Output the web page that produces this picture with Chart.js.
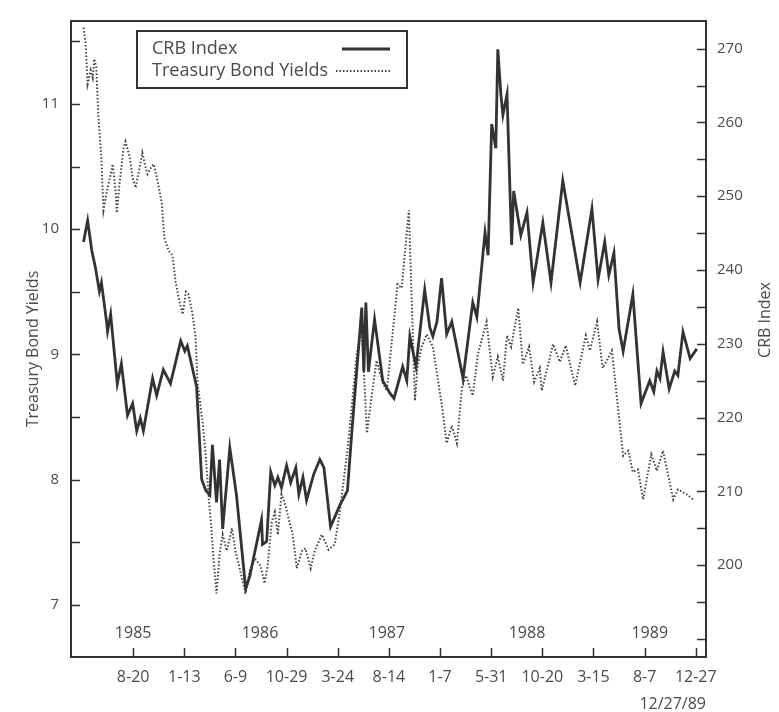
<!DOCTYPE html>
<html>
<head>
<meta charset="utf-8">
<script src="https://cdn.jsdelivr.net/npm/chart.js@4/dist/chart.umd.min.js"></script>
<style>
  html, body { margin: 0; padding: 0; background: #fff; }
  #wrap { width: 779px; height: 712px; }
</style>
</head>
<body>
<div id="wrap"><canvas id="c" width="779" height="712"></canvas></div>
<script>
// ---- DATA ----
// x is measured in 100-trading-day periods; 0 = 8-20-85 tick, 11 = 12-27-89 tick
const dateTickLabels = ['8-20', '1-13', '6-9', '10-29', '3-24', '8-14', '1-7', '5-31', '10-20', '3-15', '8-7', '12-27'];
const dateTickPositions = [0, 1, 2, 3, 4, 5, 6, 7, 8, 9, 10, 11];
const yearLabels = ['1985', '1986', '1987', '1988', '1989'];
const yearPositions = [0.0, 2.48, 4.96, 7.7, 10.1];
const endDateLabel = '12/27/89';
const leftAxisTitle = 'Treasury Bond Yields';
const rightAxisTitle = 'CRB Index';

const crbX = [-0.97, -0.89, -0.81, -0.74, -0.66, -0.62, -0.52, -0.50, -0.44, -0.31, -0.23, -0.11, -0.01, 0.07, 0.14, 0.20,
  0.38, 0.46, 0.59, 0.73, 0.93, 1.01, 1.06, 1.24, 1.34, 1.42, 1.50, 1.55, 1.63, 1.69, 1.75, 1.89, 2.02, 2.20, 2.28,
  2.51, 2.53, 2.61, 2.69, 2.77, 2.83, 2.90, 3.00, 3.08, 3.18, 3.24, 3.32, 3.39, 3.53, 3.65, 3.73, 3.86, 4.04, 4.19,
  4.27, 4.47, 4.51, 4.55, 4.60, 4.72, 4.88, 5.02, 5.10, 5.27, 5.35, 5.41, 5.53, 5.70, 5.80, 5.86, 5.94, 6.03, 6.13,
  6.23, 6.45, 6.64, 6.72, 6.88, 6.94, 7.01, 7.09, 7.13, 7.19, 7.23, 7.31, 7.40, 7.44, 7.58, 7.70, 7.82, 8.01, 8.17,
  8.40, 8.74, 8.97, 9.09, 9.22, 9.30, 9.40, 9.50, 9.58, 9.77, 9.93, 10.10, 10.18, 10.24, 10.30, 10.36, 10.48, 10.59,
  10.65, 10.75, 10.89, 11.02];
const crbValues = [243.8, 246.7, 242.7, 240.4, 237.1, 238.3, 233.0, 231.7, 234.0, 224.6, 227.3, 220.3, 221.9, 218.2, 219.9, 218.2,
  225.3, 223.0, 226.5, 224.6, 230.4, 229.0, 229.7, 224.2, 211.6, 210.1, 209.5, 216.3, 208.5, 214.3, 204.9, 215.9, 209.5, 196.8, 198.5,
  206.1, 202.8, 203.2, 212.6, 210.8, 211.9, 210.5, 213.5, 211.2, 213.2, 209.6, 211.9, 208.8, 212.3, 214.3, 213.2, 205.2, 208.1, 210.1,
  217.5, 234.9, 226.2, 235.6, 226.2, 233.3, 225.0, 223.3, 222.6, 226.9, 225.0, 231.0, 226.9, 237.3, 232.2, 231.0, 233.0, 238.9, 231.3,
  233.0, 225.3, 235.6, 233.6, 245.1, 242.0, 259.8, 256.5, 269.9, 263.8, 261.0, 263.8, 243.4, 250.7, 244.7, 247.8, 238.3, 246.4, 238.3,
  252.1, 238.3, 248.3, 238.7, 243.8, 239.3, 242.3, 232.0, 229.0, 236.7, 221.9, 225.0, 223.5, 226.3, 225.3, 228.9, 223.9, 226.3,
  225.7, 231.6, 228.0, 229.3];

const yieldX = [-0.97, -0.93, -0.89, -0.83, -0.79, -0.76, -0.72, -0.68, -0.62, -0.58, -0.52, -0.44, -0.40, -0.34, -0.32, -0.27,
  -0.19, -0.15, -0.07, -0.01, 0.05, 0.11, 0.18, 0.24, 0.28, 0.36, 0.40, 0.46, 0.56, 0.61, 0.69, 0.77, 0.83, 0.89, 0.97,
  1.03, 1.08, 1.16, 1.22, 1.26, 1.36, 1.42, 1.48, 1.53, 1.57, 1.63, 1.69, 1.75, 1.83, 1.87, 1.93, 2.00, 2.14, 2.20, 2.28,
  2.38, 2.49, 2.57, 2.63, 2.71, 2.77, 2.83, 2.90, 2.96, 3.02, 3.12, 3.20, 3.30, 3.37, 3.47, 3.55, 3.69, 3.82, 3.94, 4.04,
  4.20, 4.29, 4.37, 4.47, 4.57, 4.66, 4.76, 4.88, 4.96, 5.17, 5.25, 5.31, 5.39, 5.51, 5.56, 5.64, 5.74, 5.86, 5.94, 6.05,
  6.13, 6.23, 6.33, 6.43, 6.51, 6.58, 6.64, 6.74, 6.91, 7.03, 7.13, 7.23, 7.31, 7.39, 7.53, 7.62, 7.74, 7.84, 7.95, 7.99,
  8.21, 8.34, 8.46, 8.64, 8.85, 8.93, 9.07, 9.18, 9.26, 9.36, 9.58, 9.68, 9.77, 9.87, 9.97, 10.13, 10.24, 10.36, 10.56,
  10.65, 10.83, 10.95];
const yieldValues = [11.61, 11.49, 11.16, 11.27, 11.21, 11.36, 11.29, 10.90, 10.56, 10.15, 10.29, 10.44, 10.52, 10.29, 10.13, 10.35,
  10.64, 10.70, 10.58, 10.41, 10.33, 10.46, 10.61, 10.50, 10.44, 10.50, 10.52, 10.42, 10.21, 9.93, 9.83, 9.79, 9.58, 9.45, 9.32,
  9.50, 9.48, 9.32, 9.14, 8.77, 8.45, 8.19, 7.84, 7.61, 7.37, 7.09, 7.40, 7.56, 7.43, 7.50, 7.61, 7.43, 7.19, 7.09, 7.27,
  7.37, 7.31, 7.17, 7.31, 7.66, 7.74, 7.56, 7.88, 7.82, 7.72, 7.56, 7.29, 7.43, 7.45, 7.29, 7.43, 7.56, 7.44, 7.48, 7.74,
  8.27, 8.65, 9.00, 9.22, 8.37, 8.66, 8.95, 8.77, 8.71, 9.56, 9.53, 9.79, 10.15, 8.63, 8.90, 9.06, 9.16, 9.06, 8.85, 8.55,
  8.29, 8.43, 8.29, 8.74, 8.83, 8.74, 8.67, 9.00, 9.26, 8.82, 8.98, 8.79, 9.15, 9.06, 9.37, 8.92, 9.06, 8.78, 8.89, 8.71,
  9.08, 8.94, 9.07, 8.75, 9.15, 9.03, 9.26, 8.89, 8.95, 9.03, 8.19, 8.23, 8.06, 8.08, 7.84, 8.20, 8.07, 8.23, 7.84,
  7.92, 7.88, 7.84];

const yieldLabeledTicks = [7, 8, 9, 10, 11];
const yieldMarkTicks = [7, 7.5, 8, 8.5, 9, 9.5, 10, 10.5, 11, 11.5];
const crbLabeledTicks = [200, 210, 220, 230, 240, 250, 260, 270];
const crbMarkTicks = [190, 195, 200, 205, 210, 215, 220, 225, 230, 235, 240, 245, 250, 255, 260, 265, 270];

// ---- STYLE ----
const FONT = "'Open Sans', 'DejaVu Sans', sans-serif";
const TEXT = '#4a4a4a';
const INK = '#333';

const toPoints = (xs, ys) => xs.map((x, i) => ({ x: x, y: ys[i] }));

const frameAndTicks = {
  id: 'frameAndTicks',
  afterDatasetsDraw(chart) {
    const { ctx, chartArea: a, scales } = chart;
    ctx.save();
    ctx.strokeStyle = INK;
    ctx.lineWidth = 2;
    ctx.strokeRect(a.left, a.top, a.right - a.left, a.bottom - a.top);
    ctx.lineWidth = 1.5;
    const L = 9;
    ctx.beginPath();
    yieldMarkTicks.forEach(v => {
      const y = Math.round(scales.yT.getPixelForValue(v)) + 0.5;
      if (y > a.top && y < a.bottom) { ctx.moveTo(a.left, y); ctx.lineTo(a.left + L, y); }
    });
    crbMarkTicks.forEach(v => {
      const y = Math.round(scales.yC.getPixelForValue(v)) + 0.5;
      if (y > a.top && y < a.bottom) { ctx.moveTo(a.right, y); ctx.lineTo(a.right - L, y); }
    });
    dateTickPositions.forEach(v => {
      const x = Math.round(scales.x.getPixelForValue(v)) + 0.5;
      ctx.moveTo(x, a.bottom); ctx.lineTo(x, a.bottom - L);
    });
    ctx.stroke();

    // year labels inside plot
    ctx.fillStyle = TEXT;
    ctx.font = '16px ' + FONT;
    ctx.textAlign = 'center';
    ctx.textBaseline = 'middle';
    yearLabels.forEach((t, i) => {
      ctx.fillText(t, scales.x.getPixelForValue(yearPositions[i]), a.bottom - 24);
    });

    // axis titles (both read bottom-to-top)
    ctx.font = '16px ' + FONT;
    [[leftAxisTitle, 33, 349], [rightAxisTitle, 765, 320]].forEach(([t, x, y]) => {
      ctx.save();
      ctx.translate(x, y);
      ctx.rotate(-Math.PI / 2);
      ctx.fillText(t, 0, 0);
      ctx.restore();
    });

    // legend box
    const bx = 137, by = 31, bw = 270, bh = 57;
    ctx.fillStyle = '#fff';
    ctx.fillRect(bx, by, bw, bh);
    ctx.lineWidth = 2;
    ctx.strokeStyle = INK;
    ctx.strokeRect(bx, by, bw, bh);
    ctx.font = '18px ' + FONT;
    ctx.textAlign = 'left';
    ctx.fillStyle = TEXT;
    const ds = chart.data.datasets;
    const rows = [49, 71];
    ds.forEach((d, i) => {
      ctx.fillText(d.label, 152, rows[i]);
      ctx.save();
      ctx.strokeStyle = d.borderColor;
      ctx.lineWidth = d.borderWidth;
      ctx.setLineDash(d.borderDash || []);
      ctx.beginPath();
      ctx.moveTo(i === 0 ? 342 : 336, rows[i]);
      ctx.lineTo(390, rows[i]);
      ctx.stroke();
      ctx.restore();
    });
    ctx.restore();
  }
};

new Chart(document.getElementById('c'), {
  type: 'line',
  data: {
    datasets: [
      {
        label: 'CRB Index',
        data: toPoints(crbX, crbValues),
        yAxisID: 'yC',
        borderColor: '#333',
        borderWidth: 2.8,
        pointRadius: 0,
        tension: 0,
        borderJoinStyle: 'miter'
      },
      {
        label: 'Treasury Bond Yields',
        data: toPoints(yieldX, yieldValues),
        yAxisID: 'yT',
        borderColor: '#444',
        borderWidth: 2,
        borderDash: [1.5, 2],
        pointRadius: 0,
        tension: 0
      }
    ]
  },
  options: {
    responsive: false,
    animation: false,
    events: [],
    layout: { padding: { top: 13, left: 0, right: 0, bottom: 0 } },
    plugins: { legend: { display: false }, tooltip: { enabled: false } },
    scales: {
      x: {
        type: 'linear',
        position: 'bottom',
        min: -1.215,
        max: 11.2,
        grid: { display: false, drawTicks: false },
        border: { display: false },
        afterBuildTicks: s => { s.ticks = dateTickPositions.map(v => ({ value: v })); },
        afterFit: s => { s.height = 55; },
        ticks: {
          color: TEXT,
          font: { family: FONT, size: 16 },
          padding: 11,
          maxRotation: 0,
          autoSkip: false,
          callback: (v) => dateTickLabels[dateTickPositions.indexOf(v)]
        },
        title: {
          display: true,
          text: endDateLabel,
          align: 'end',
          color: TEXT,
          font: { family: FONT, size: 16, lineHeight: 1 },
          padding: { top: 0, bottom: 0 }
        }
      },
      yT: {
        type: 'linear',
        position: 'left',
        min: 6.582,
        max: 11.663,
        grid: { display: false, drawTicks: false },
        border: { display: false },
        afterBuildTicks: s => { s.ticks = yieldLabeledTicks.map(v => ({ value: v })); },
        afterFit: s => { s.width = 71; },
        ticks: { color: TEXT, font: { family: FONT, size: 15 }, padding: 12 },
        title: { display: false }
      },
      yC: {
        type: 'linear',
        position: 'right',
        min: 187.54,
        max: 273.75,
        grid: { display: false, drawTicks: false },
        border: { display: false },
        afterBuildTicks: s => { s.ticks = crbLabeledTicks.map(v => ({ value: v })); },
        afterFit: s => { s.width = 73; },
        ticks: { color: TEXT, font: { family: FONT, size: 15 }, padding: 11 },
        title: { display: false }
      }
    }
  },
  plugins: [frameAndTicks]
});
</script>
</body>
</html>
